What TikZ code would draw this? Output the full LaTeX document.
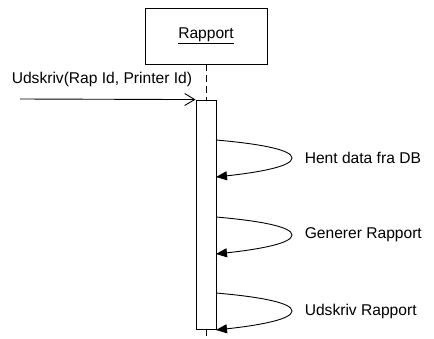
\documentclass[tikz,border=0pt]{standalone}
\usepackage{fontspec}
\setmainfont{Liberation Sans}
\usetikzlibrary{arrows.meta}
\tikzset{
  objbox/.style={draw, minimum width=122pt, minimum height=56pt, inner sep=0pt},
  actbox/.style={draw, fill=white, minimum width=20pt, minimum height=229pt, inner sep=0pt},
  lifeline/.style={dashed, dash pattern=on 7pt off 4pt},
  selfcall/.style={-{Triangle[length=11pt,width=9pt]}},
  msg/.style={font=\fontsize{15.6}{18}\selectfont}
}
\begin{document}
\begin{tikzpicture}[x=1pt,y=-1pt,line width=0.9pt]
%\draw[very thin, gray] (0,0) grid[step=20] (434,338);
\useasboundingbox (0,0) rectangle (434,338);
\node[objbox, msg] (rapport) at (206,36) {\underline{Rapport}};
\coordinate (bund) at (206,338);
\draw[lifeline] (rapport.south) -- (206,100);
\node[actbox] (akt) at (206,214.5) {};
\draw[lifeline] (akt.south) -- (bund);
% kald udefra
\coordinate (kilde) at (20,99);
\draw[-{Straight Barb[length=10pt,width=12pt]}] (kilde) -- (akt.north west);
\node[msg, anchor=base west] (kald) at (8,83) {Udskriv(Rap Id, Printer Id)};
% kald til sig selv
\foreach \y/\tekst/\navn in {140/Hent data fra DB/hent, 217/Generer Rapport/gen, 293/Udskriv Rapport/udskriv}{
  \coordinate (\navn-fra) at (216,\y);
  \coordinate (\navn-til) at (216,\y+37);
  \draw[selfcall] (\navn-fra) .. controls (262,\y+4) and (292,\y+10) .. (292,\y+18)
    .. controls (292,\y+26) and (262,\y+32) .. (\navn-til);
  \node[msg, anchor=west] (\navn) at (301,\y+18) {\tekst};
}
\end{tikzpicture}
\end{document}
